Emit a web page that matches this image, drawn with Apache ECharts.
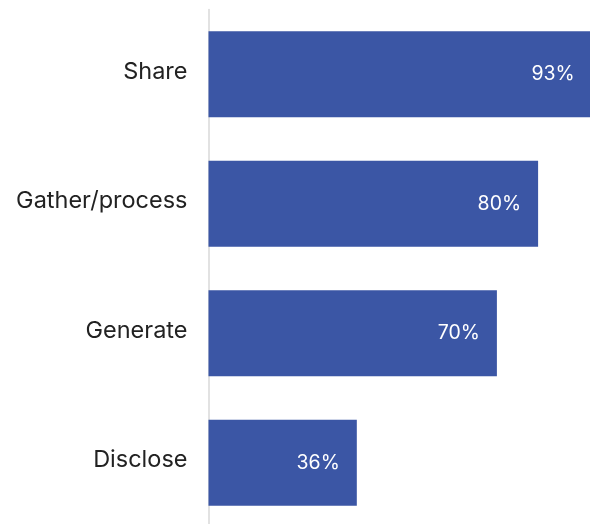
<!DOCTYPE html>
<html><head><meta charset="utf-8">
<script src="https://cdn.jsdelivr.net/npm/echarts@6/dist/echarts.min.js"></script>
<style>html,body{margin:0;padding:0;background:#fff}#c{width:590px;height:524px}</style>
</head><body><div id="c"></div>
<script>
const categories = ["Share", "Gather/process", "Generate", "Disclose"];
const values = [93, 80, 70, 36];
const chart = echarts.init(document.getElementById('c'));
chart.setOption({
  animation: false,
  grid: { left: 208.5, top: 9.4, right: -30.5, bottom: -3.4, containLabel: false, outerBoundsMode: 'none' },
  xAxis: { type: 'value', min: 0, max: 100, show: false },
  yAxis: {
    type: 'category', inverse: true, data: categories,
    axisLine: { show: true, lineStyle: { color: '#d9d9d9', width: 1.5 } },
    axisTick: { show: false },
    axisLabel: {
      margin: 21, formatter: '{a|{value}}',
      rich: { a: { color: '#222', fontSize: 23.5, fontFamily: 'Inter', padding: [0, 0, 5, 0] } }
    }
  },
  series: [{
    type: 'bar', data: values, barCategoryGap: '33.6%',
    itemStyle: { color: '#3b56a5' },
    label: { show: true, position: 'insideRight', distance: 17, color: '#fff', fontSize: 19.5, fontFamily: 'Inter', formatter: '{c}%' }
  }]
});
</script></body></html>
